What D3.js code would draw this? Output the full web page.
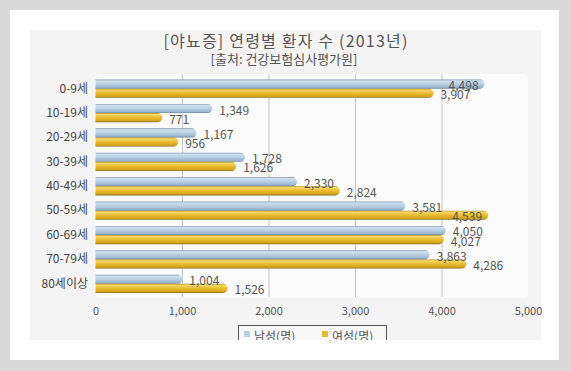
<!DOCTYPE html>
<html>
<head>
<meta charset="utf-8">
<script src="https://cdn.jsdelivr.net/npm/d3@7"></script>
<style>
  body { margin: 0; background: #fff; }
  svg { display: block; font-family: "Noto Sans CJK KR", "Noto Sans", sans-serif; }
</style>
</head>
<body>
<div id="chart"></div>
<script>
const categories = ["0-9세", "10-19세", "20-29세", "30-39세", "40-49세", "50-59세", "60-69세", "70-79세", "80세이상"];
const male = [4498, 1349, 1167, 1728, 2330, 3581, 4050, 3863, 1004];
const female = [3907, 771, 956, 1626, 2824, 4539, 4027, 4286, 1526];
const xTicks = [0, 1000, 2000, 3000, 4000, 5000];
const seriesNames = ["남성(명)", "여성(명)"];

const width = 571, height = 371;
const fmt = d3.format(",");

const svg = d3.select("#chart").append("svg")
    .attr("width", width)
    .attr("height", height);

const defs = svg.append("defs");
function grad(id, stops) {
    const g = defs.append("linearGradient").attr("id", id)
        .attr("x1", 0).attr("y1", 0).attr("x2", 0).attr("y2", 1);
    stops.forEach(s => g.append("stop").attr("offset", s[0]).attr("stop-color", s[1]));
}
grad("gBlue", [[0, "#7f98b2"], [0.15, "#cfdfec"], [0.5, "#b9d0e4"], [0.85, "#9ab5cd"], [1, "#6d849c"]]);
grad("gGold", [[0, "#b39124"], [0.15, "#f6d96a"], [0.5, "#eabb2c"], [0.85, "#d6a41a"], [1, "#7a6a22"]]);
defs.append("clipPath").attr("id", "panelClip")
    .append("rect").attr("x", 30).attr("y", 30).attr("width", 511).attr("height", 310);

// frame
svg.append("rect").attr("width", width).attr("height", height).attr("fill", "#d9d9d9");
svg.append("rect").attr("x", 10).attr("y", 10).attr("width", 549).attr("height", 350).attr("fill", "#fff");
svg.append("rect").attr("x", 30).attr("y", 30).attr("width", 511).attr("height", 310).attr("fill", "#f4f4f4");

const x = d3.scaleLinear().domain([0, 5000]).range([95.5, 528]);
const y = d3.scaleBand().domain(categories).range([76.5, 296]).paddingInner(0.25).paddingOuter(0.125);
const bh = y.bandwidth() / 2;

svg.append("rect")
    .attr("x", x(0)).attr("y", 74).attr("width", x(5000) - x(0)).attr("height", 224)
    .attr("rx", 4).attr("fill", "#fff").attr("opacity", 0.6);

// title
svg.append("text")
    .attr("x", 286).attr("y", 40)
    .attr("text-anchor", "middle").attr("dominant-baseline", "central")
    .attr("font-size", 16).attr("letter-spacing", 1.2).attr("fill", "#555")
    .text("[야뇨증] 연령별 환자 수 (2013년)");
svg.append("text")
    .attr("x", 284).attr("y", 58)
    .attr("text-anchor", "middle").attr("dominant-baseline", "central")
    .attr("font-size", 13).attr("fill", "#555")
    .text("[출처: 건강보험심사평가원]");

// grid
svg.append("g")
    .selectAll("line")
    .data(xTicks.filter(d => d > 0 && d < 5000))
    .join("line")
    .attr("x1", d => x(d) + 0.5).attr("x2", d => x(d) + 0.5)
    .attr("y1", 74).attr("y2", 297)
    .attr("stroke", "#c4c4c4");

// x axis labels
const xAxis = svg.append("g")
    .attr("transform", "translate(0,304)")
    .call(d3.axisBottom(x).tickValues(xTicks).tickFormat(fmt).tickSize(0));
xAxis.select(".domain").remove();
xAxis.selectAll("text")
    .attr("font-family", "\"Noto Sans CJK KR\", sans-serif")
    .attr("font-size", 11).attr("fill", "#555");

// y axis labels
const yAxis = svg.append("g")
    .attr("transform", "translate(88,0)")
    .call(d3.axisLeft(y).tickSize(0).tickPadding(0));
yAxis.select(".domain").remove();
yAxis.selectAll("text")
    .attr("font-family", "\"Noto Sans CJK KR\", sans-serif")
    .attr("font-size", 12).attr("fill", "#444");

function barPath(v, top) {
    const x0 = x(0), xe = x(v), r = bh / 2;
    return `M${x0},${top}H${xe - r}A${r},${r} 0 0 1 ${xe - r},${top + bh}H${x0}Z`;
}

const series = [
    { name: seriesNames[0], values: male, fill: "url(#gBlue)", off: 0 },
    { name: seriesNames[1], values: female, fill: "url(#gGold)", off: 1 }
];

series.forEach(s => {
    svg.append("g")
        .selectAll("path")
        .data(categories)
        .join("path")
        .attr("d", (c, i) => barPath(s.values[i], y(c) + s.off * bh))
        .attr("fill", s.fill);
});

// value labels (overlapping as in the original)
series.forEach(s => {
    svg.append("g")
        .selectAll("text")
        .data(categories)
        .join("text")
        .attr("font-size", 12).attr("fill", "#555")
        .attr("dominant-baseline", "central")
        .each(function (c, i) {
            const v = s.values[i];
            const xe = x(v);
            const inside = xe + 44 > 522;
            d3.select(this)
                .attr("x", inside ? xe - 6 : xe + 7)
                .attr("y", y(c) + s.off * bh + bh / 2 + 0.5)
                .attr("text-anchor", inside ? "end" : "start")
                .text(fmt(v));
        });
});

// legend (clipped by the panel bottom)
const legend = svg.append("g").attr("clip-path", "url(#panelClip)");
legend.append("rect")
    .attr("x", 238.5).attr("y", 325.5).attr("width", 148).attr("height", 30)
    .attr("fill", "#f8f8f8").attr("stroke", "#555");
const lc = ["#b8cfe3", "#e8b92a"];
const lx = [244, 322];
seriesNames.forEach((n, i) => {
    legend.append("rect").attr("x", lx[i]).attr("y", 331).attr("width", 6).attr("height", 6).attr("fill", lc[i]);
    legend.append("text").attr("x", lx[i] + 10).attr("y", 335)
        .attr("dominant-baseline", "central")
        .attr("font-size", 12).attr("fill", "#555").text(n);
});
</script>
</body>
</html>
